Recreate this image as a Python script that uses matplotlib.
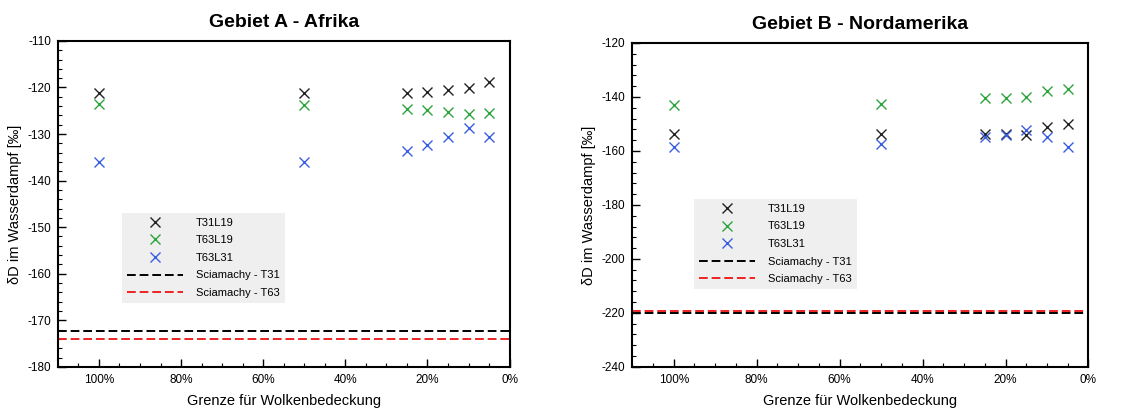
from matplotlib.ticker import MultipleLocator
from matplotlib import pyplot as plt

plt.rcParams['font.family'] = ['Liberation Sans', 'DejaVu Sans']
plt.rcParams['axes.unicode_minus'] = False

cloudLimit = [100, 50, 25, 20, 15, 10, 5]
xTicks = [100, 80, 60, 40, 20, 0]
xTickLabels = ['100%', '80%', '60%', '40%', '20%', '0%']

# Gebiet A - Afrika
africaT31L19 = [-121.1, -121.1, -121.2, -121.0, -120.6, -120.1, -118.9]
africaT63L19 = [-123.5, -123.7, -124.7, -124.9, -125.3, -125.8, -125.5]
africaT63L31 = [-136.0, -136.0, -133.7, -132.4, -130.6, -128.7, -130.6]
africaSciaT31 = -172.3
africaSciaT63 = -174.0

# Gebiet B - Nordamerika
naT31L19 = [-153.8, -153.8, -153.9, -153.9, -154.2, -151.0, -149.9]
naT63L19 = [-143.1, -142.8, -140.4, -140.4, -139.9, -137.8, -137.2]
naT63L31 = [-158.4, -157.4, -155.0, -154.1, -152.2, -155.0, -158.6]
naSciaT31 = -220.1
naSciaT63 = -219.4


def drawPanel(ax, title, t31, t63, t6331, sciaT31, sciaT63, ylim, legendPos):
    ax.plot(cloudLimit, t31, linestyle='none', marker='x', color='#222222',
            markersize=6.5, markeredgewidth=1.0, label='T31L19')
    ax.plot(cloudLimit, t63, linestyle='none', marker='x', color='#2ca43c',
            markersize=6.5, markeredgewidth=1.0, label='T63L19')
    ax.plot(cloudLimit, t6331, linestyle='none', marker='x', color='#3a5ee0',
            markersize=6.5, markeredgewidth=1.0, label='T63L31')
    ax.axhline(sciaT31, color='black', linestyle=(0, (4.5, 2)), linewidth=1.4,
               label='Sciamachy - T31')
    ax.axhline(sciaT63, color='#ee2222', linestyle=(0, (4.5, 2)), linewidth=1.4,
               label='Sciamachy - T63')
    ax.set_xlim(110, 0)
    ax.set_ylim(*ylim)
    ax.set_xticks(xTicks)
    ax.set_xticklabels(xTickLabels)
    ax.xaxis.set_minor_locator(MultipleLocator(5))
    ax.yaxis.set_major_locator(MultipleLocator(10 if ylim[1] - ylim[0] <= 70 else 20))
    ax.yaxis.set_minor_locator(MultipleLocator(2 if ylim[1] - ylim[0] <= 70 else 4))
    ax.tick_params(which='both', direction='in', top=False, right=False, labelsize=8.5)
    ax.tick_params(which='major', length=6, width=1, pad=5)
    ax.tick_params(which='minor', length=3, width=0.8)
    for s in ax.spines.values():
        s.set_linewidth(1.5)
    ax.set_title(title, fontsize=14, fontweight='bold', pad=10)
    ax.set_xlabel(u'Grenze für Wolkenbedeckung', fontsize=10.5, labelpad=6)
    ax.set_ylabel(u'δD im Wasserdampf [‰]', fontsize=10.5)
    leg = ax.legend(loc='lower left', bbox_to_anchor=legendPos, fontsize=8,
                    handlelength=5.0, handletextpad=1.2, labelspacing=0.68,
                    frameon=True, fancybox=False, borderpad=0.45,
                    borderaxespad=0)
    leg.get_frame().set_facecolor('#efefef')
    leg.get_frame().set_edgecolor('none')
    leg.get_frame().set_alpha(1)


fig = plt.figure(figsize=(11.35, 4.09), dpi=100)
ax1 = fig.add_axes([0.051, 0.103, 0.398, 0.797])
ax2 = fig.add_axes([0.557, 0.103, 0.402, 0.792])

drawPanel(ax1, 'Gebiet A - Afrika', africaT31L19, africaT63L19, africaT63L31,
          africaSciaT31, africaSciaT63, (-180, -110), (0.142, 0.196))
drawPanel(ax2, 'Gebiet B - Nordamerika', naT31L19, naT63L19, naT63L31,
          naSciaT31, naSciaT63, (-240, -120), (0.136, 0.24))

fig.savefig('out.png', dpi=100)
